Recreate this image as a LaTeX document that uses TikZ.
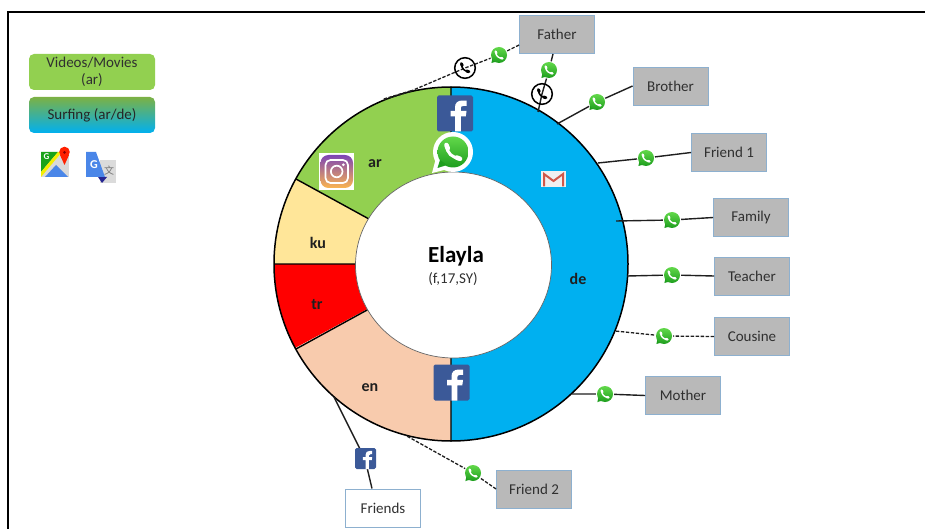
\documentclass[tikz,border=0pt]{standalone}
\usepackage{fontspec}
\setmainfont{Carlito}
\newfontfamily\cjkfont{Noto Sans CJK SC}
\usetikzlibrary{calc}
\definecolor{cAr}{HTML}{92D050}
\definecolor{cKu}{HTML}{FFE699}
\definecolor{cTr}{HTML}{FF0000}
\definecolor{cEn}{HTML}{F8CBAD}
\definecolor{cDe}{HTML}{00B0F0}
\definecolor{cBox}{HTML}{B9B9B9}
\definecolor{cEdge}{HTML}{8DB0CF}
\definecolor{cFb}{HTML}{3B5998}
\definecolor{cTxt}{HTML}{303030}
\definecolor{cMid}{HTML}{4472C4}
\definecolor{cWaA}{HTML}{62D84A}
\definecolor{cWaB}{HTML}{1E9E1E}
\definecolor{cInA}{HTML}{7D45B5}
\definecolor{cInB}{HTML}{D9307A}
\definecolor{cInC}{HTML}{FBB550}
\definecolor{cGm}{HTML}{D0584A}
\definecolor{cGb}{HTML}{4A86E8}
\tikzset{
  x=1pt,y=-1pt,
  person/.style={draw=cEdge,line width=0.9pt,fill=cBox,minimum width=75pt,minimum height=38pt,inner sep=0pt,text=cTxt,font=\fontsize{15}{17}\selectfont},
  whitebox/.style={person,fill=white},
  legend/.style={draw=none,rounded corners=5pt,minimum width=126pt,minimum height=36pt,inner sep=0pt,align=center,text=cTxt,font=\fontsize{15}{17.5}\selectfont},
  seglabel/.style={inner sep=0pt,font=\bfseries\fontsize{16}{18}\selectfont,text=black!88},
  solidlink/.style={draw=black!88,line width=1.4pt},
  dashlink/.style={draw=black!88,line width=1.3pt,dash pattern=on 3.4pt off 1.6pt},
  wa/.pic={
    \fill[white] (0,0) circle[radius=9];
    \shade[top color=cWaB,bottom color=cWaB] (-6.5,3) -- (-7.6,8) -- (-2.5,6.6) -- cycle;
    \shade[top color=cWaA,bottom color=cWaB] (0,0) circle[radius=8];
    \draw[white,line width=1.4pt,line cap=round] (-3.4,-3.3) .. controls (-3.3,0.6) and (-0.5,3.5) .. (3.5,3.3);
    \draw[white,line width=2.3pt,line cap=round] (-3.4,-3.5) -- (-2.6,-1.8) (1.8,3) -- (3.5,3.5);
  },
  wabig/.pic={
    \fill[white] (0,0) circle[radius=20];
    \fill[white] (-17,6) -- (-21,21) -- (-5,17) -- cycle;
    \shade[top color=cWaA,bottom color=cWaB] (0,0) circle[radius=15.5];
    \shade[top color=cWaB,bottom color=cWaB] (-13,8) -- (-15.5,16) -- (-6,13) -- cycle;
    \draw[white,line width=3pt,line cap=round] (-6.5,-6.5) .. controls (-6,1) and (-1,6) .. (7,6.3);
    \draw[white,line width=4.6pt,line cap=round] (-6.6,-7) -- (-5.2,-3.6) (3.6,5.6) -- (7,6.8);
  },
  phonering/.pic={
    \draw[black,line width=1.5pt] (0,0) circle[radius=10.3];
    \draw[black,line width=1.5pt,line cap=round] (-3.6,-3.8) .. controls (-3.4,0.4) and (-0.5,3.6) .. (3.6,3.4);
    \draw[black,line width=3pt,line cap=round] (-3.6,-4.4) -- (-2.8,-2.4) (1.6,3) -- (3.9,3.7);
  },
  fbtile/.pic={
    \fill[cFb,rounded corners=1.6pt] (0,0) rectangle (1,1);
    \fill[white] (.50,1) -- (.50,.58) -- (.38,.58) -- (.38,.43) -- (.50,.43) -- (.50,.33)
      .. controls (.50,.2) and (.58,.14) .. (.70,.14) -- (.82,.14) -- (.82,.29) -- (.74,.29)
      .. controls (.68,.29) and (.66,.31) .. (.66,.36) -- (.66,.43) -- (.82,.43) -- (.80,.58) -- (.66,.58) -- (.66,1) -- cycle;
  },
}
\begin{document}
\begin{tikzpicture}
\useasboundingbox (0,0) rectangle (925,529);
\draw[black,line width=1.8pt] (8,529) -- (8,12) -- (925,12);

% ring geometry
\coordinate (c) at (451,264);
\coordinate (rimArDe) at (451,87);
\coordinate (rimDeEn) at (451,441);
\coordinate (rimArKu) at (296,179);
\coordinate (rimKuTr) at (274,264);
\coordinate (rimTrEn) at (296,349);
\begin{scope}
  \clip (c) circle[radius=177];
  \fill[cDe] (451,60) rectangle (660,470);
  \fill[cAr] (c) -- (451,60) -- (249,60) -- (249,153) -- cycle;
  \fill[cKu] (c) -- (249,153) -- (249,264) -- cycle;
  \fill[cTr] (c) -- (249,264) -- (249,373) -- cycle;
  \fill[cEn] (c) -- (249,373) -- (249,470) -- (451,470) -- cycle;
\end{scope}
\draw[black,line width=1.5pt] (c) circle[radius=177];
\draw[black,line width=1.4pt] (c) -- (rimArDe) (c) -- (rimDeEn) (c) -- (rimArKu) (c) -- (rimKuTr) (c) -- (rimTrEn);
\draw[black!60,line width=0.7pt,fill=white] (453.5,265) ellipse[x radius=98,y radius=93];

% segment labels and centre
\node[seglabel] (lblAr) at (375,164) {ar};
\node[seglabel] (lblKu) at (318,243) {ku};
\node[seglabel] (lblTr) at (317,305) {tr};
\node[seglabel] (lblEn) at (370,388) {en};
\node[seglabel] (lblDe) at (578,279) {de};
\node[inner sep=0pt,font=\bfseries\fontsize{23}{25}\selectfont] (name) at (456,256) {Elayla};
\node[inner sep=0pt,text=cTxt,font=\fontsize{15}{17}\selectfont] (info) at (453,279) {(f,17,SY)};

% people
\node[person] (father) at (557,34.5) {Father};
\node[person] (brother) at (670.5,86) {Brother};
\node[person] (friendA) at (729,152.5) {Friend 1};
\node[person] (family) at (751,217.5) {Family};
\node[person] (teacher) at (752,276) {Teacher};
\node[person] (cousine) at (752,336.5) {Cousine};
\node[person] (mother) at (683,395.5) {Mother};
\node[person] (friendB) at (534,489) {Friend 2};
\node[whitebox] (friends) at (383,508) {Friends};

% icon positions on links
\coordinate (waFatherA) at (499,55);
\coordinate (phA) at (465,68);
\coordinate (rimFatherA) at (411,91);
\coordinate (rimFatherB) at (383,99.5);
\coordinate (waFatherB) at (549,70);
\coordinate (phB) at (542,94);
\coordinate (rimFatherC) at (538,112);
\coordinate (waBrother) at (597,102);
\coordinate (rimBrother) at (557,124);
\coordinate (waFriendA) at (646,158);
\coordinate (rimFriendA) at (598,163);
\coordinate (waFamily) at (672,220);
\coordinate (rimFamily) at (616,221);
\coordinate (waTeacher) at (672,275);
\coordinate (rimTeacher) at (627,276);
\coordinate (waCousine) at (664,336);
\coordinate (rimCousine) at (615,331);
\coordinate (waMother) at (605,394);
\coordinate (rimMother) at (572,394);
\coordinate (waFriendB) at (473,473);
\coordinate (rimFriendB) at (405,435);
\coordinate (fbFriends) at (365,459);
\coordinate (rimFriends) at (334,397);

% connectors
\draw[dashlink] ([yshift=-10.5pt]father.west) -- (waFatherA) -- (phA) -- (rimFatherA);
\draw[dashlink,line width=1.8pt] (rimFatherA) -- (rimFatherB);
\draw[solidlink] ([xshift=-4pt]father.south) -- (waFatherB) -- (phB) -- (rimFatherC);
\draw[solidlink] (brother.west) -- (waBrother) -- (rimBrother);
\draw[solidlink] (friendA.west) -- (waFriendA) -- (rimFriendA);
\draw[solidlink] (family.west) -- (waFamily) -- (rimFamily);
\draw[solidlink] (teacher.west) -- (waTeacher) -- (rimTeacher);
\draw[dashlink] (cousine.west) -- (waCousine) -- (rimCousine);
\draw[solidlink] (mother.west) -- (waMother) -- (rimMother);
\draw[dashlink] (friendB.west) -- (waFriendB) -- (rimFriendB);
\draw[solidlink] ([xshift=-11pt]friends.north) -- (fbFriends) -- (rimFriends);

% link icons
\foreach \p in {waFatherA,waFatherB,waBrother,waFriendA,waFamily,waTeacher,waCousine,waMother,waFriendB}
  \pic at (\p) {wa};
\pic at (phA) {phonering};
\pic at (phB) {phonering};
\pic[scale=21] at (355,448) {fbtile};

% big icons on the ring
\pic[scale=36] at (437,95.5) {fbtile};
\pic[scale=36] at (433.5,364.5) {fbtile};
\pic at (453,152) {wabig};

% instagram
\fill[white] (319,153) rectangle (354,190);
\shade[rounded corners=8pt,top color=cInA,middle color=cInB,bottom color=cInC] (320.5,155) rectangle (353,188);
\draw[white,line width=1.7pt,rounded corners=5pt] (325.5,160) rectangle (348,183);
\draw[white,line width=1.7pt] (336.7,171.5) circle[radius=5.8];
\fill[white] (343.4,164.8) circle[radius=1.5];

% gmail
\fill[black!6] (541,171) rectangle (566,187);
\draw[cGm,line width=2pt,line join=miter] (544,186.5) -- (544,174) -- (553.5,181) -- (563,174) -- (563,186.5);

% legend
\node[legend,fill=cAr] (videos) at (92,72) {Videos/Movies\\(ar)};
\shade[rounded corners=5pt,top color=cAr!85!black,middle color=cMid,bottom color=cDe] (29,97) rectangle (155,133);
\node[inner sep=0pt,text=black!85,font=\fontsize{15}{17}\selectfont] (surfing) at (92,115.5) {Surfing (ar/de)};

% google maps
\fill[black!15] (41,152) rectangle (69,177);
\fill[green!60!black!90] (41,152) -- (58,152) -- (41,172) -- cycle;
\fill[yellow!85!lime] (41,172) -- (58,152) -- (62,152) -- (41,177) -- cycle;
\fill[cGb] (45,177) -- (56,165) -- (68,177) -- cycle;
\fill[red!75!orange] (64.5,152) circle[radius=5.3];
\fill[red!75!orange] (60,155) -- (69,155) -- (64.5,165) -- cycle;
\fill[red!55!black] (64.5,152.5) circle[radius=1.5];
\node[inner sep=0pt,text=white,font=\bfseries\fontsize{9}{9}\selectfont] (mapsG) at (46.5,157) {G};

% google translate
\fill[black!14] (100,160) rectangle (116,183);
\fill[blue!50!black!85] (98,177) -- (107,177) -- (102,183) -- cycle;
\fill[cGb] (86,152) -- (96,152) -- (105,177) -- (86,177) -- cycle;
\node[inner sep=0pt,text=white,font=\bfseries\fontsize{12}{12}\selectfont] (trG) at (94,165) {G};
\node[inner sep=0pt,text=black!55,font=\cjkfont\fontsize{10}{10}\selectfont] (trZi) at (109,171) {文};
\end{tikzpicture}
\end{document}
